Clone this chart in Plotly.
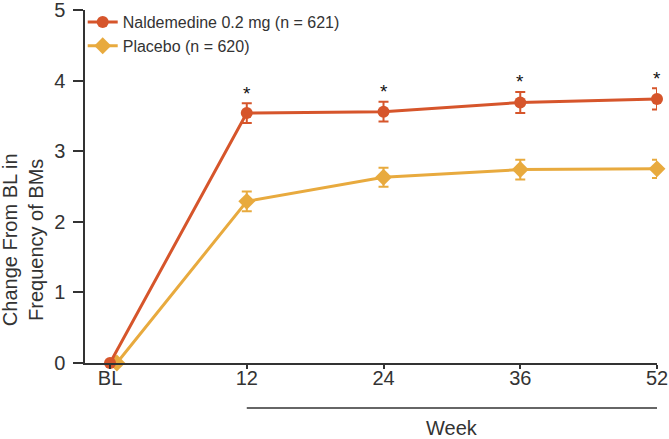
import plotly.graph_objects as go

categories = ["BL", "12", "24", "36", "52"]
nal_mean = [0.0, 3.54, 3.56, 3.69, 3.74]
nal_err = [0.0, 0.14, 0.14, 0.15, 0.15]
pla_mean = [0.0, 2.29, 2.63, 2.74, 2.75]
pla_err = [0.0, 0.14, 0.135, 0.14, 0.13]
significant = ["", "*", "*", "*", "*"]

NAL = "#D6552B"
PLA = "#E8AA3E"
AX = "#333333"
FONT = "Liberation Sans, Arial, sans-serif"

xpos = list(range(len(categories)))
pla_x = [x + (0.05 if i == 0 else 0) for i, x in enumerate(xpos)]

fig = go.Figure()
fig.add_trace(go.Scatter(
    x=pla_x, y=pla_mean, name="Placebo (n = 620)", mode="lines+markers",
    line=dict(color=PLA, width=3),
    marker=dict(symbol="diamond", size=13, color=PLA),
    error_y=dict(type="data", array=pla_err, visible=True, color=PLA, thickness=2, width=5),
    cliponaxis=False,
))
fig.add_trace(go.Scatter(
    x=xpos, y=nal_mean, name="Naldemedine 0.2 mg (n = 621)", mode="lines+markers",
    line=dict(color=NAL, width=3),
    marker=dict(symbol="circle", size=12, color=NAL),
    error_y=dict(type="data", array=nal_err, visible=True, color=NAL, thickness=2, width=5),
    cliponaxis=False,
))

for x, m, e, s in zip(xpos, nal_mean, nal_err, significant):
    if s:
        fig.add_annotation(x=x, y=m + e, text=s, showarrow=False, yshift=10,
                           font=dict(size=19, color="#111111", family=FONT))

fig.add_shape(type="line", xref="x", yref="paper", x0=1, x1=4, y0=-0.1275, y1=-0.1275,
              line=dict(color=AX, width=1.5))
fig.add_annotation(xref="x", yref="paper", x=2.5, y=-0.184, text="Week", showarrow=False,
                   font=dict(size=20, color=AX, family=FONT), yanchor="middle")
fig.add_annotation(xref="paper", yref="paper", x=0, y=0.348, xshift=-62,
                   text="Change From BL in<br>Frequency of BMs", textangle=-90,
                   showarrow=False, xanchor="center", yanchor="middle",
                   font=dict(size=20, color=AX, family=FONT))

fig.update_layout(
    width=669, height=439,
    margin=dict(l=85, r=12, t=10, b=76, autoexpand=False),
    paper_bgcolor="white", plot_bgcolor="white",
    font=dict(family=FONT, size=20, color=AX),
    showlegend=True,
    legend=dict(x=-0.004, y=1.014, xanchor="left", yanchor="top", traceorder="reversed",
                font=dict(size=16, color=AX, family=FONT), bgcolor="rgba(0,0,0,0)",
                itemwidth=30, tracegroupgap=0),
    xaxis=dict(
        range=[-0.183, 4], tickmode="array", tickvals=xpos, ticktext=categories,
        showgrid=False, zeroline=False, showline=True, linecolor=AX, linewidth=1.5,
        ticks="outside", ticklen=4, tickwidth=1.5, tickcolor=AX,
        tickfont=dict(size=20, color=AX), automargin=False, ticklabelstandoff=-8,
        ticklabeloverflow="allow",
    ),
    yaxis=dict(
        range=[0, 5], tickvals=[0, 1, 2, 3, 4, 5],
        showgrid=False, zeroline=False, showline=True, linecolor=AX, linewidth=1.5,
        ticks="outside", ticklen=10, tickwidth=1.5, tickcolor=AX,
        tickfont=dict(size=20, color=AX), automargin=False, ticklabelstandoff=4,
        ticklabeloverflow="allow",
    ),
)

fig.write_html("out.html", config={"displayModeBar": False},
               post_script="document.body.style.margin='0px';")
